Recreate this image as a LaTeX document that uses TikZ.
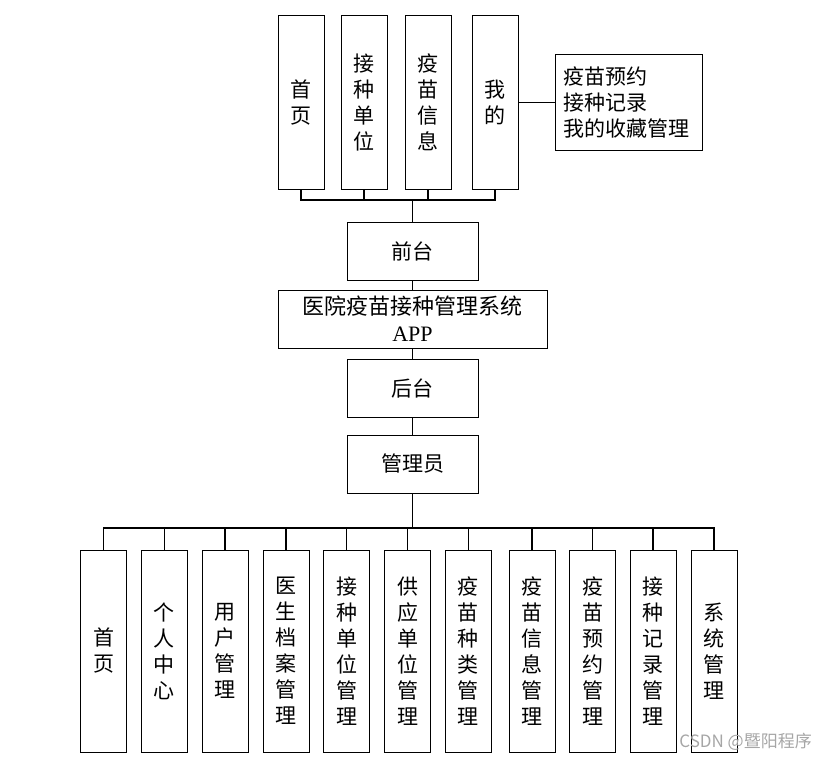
\documentclass[tikz,border=0pt]{standalone}
\usepackage{fontspec}
\setmainfont{Liberation Serif}
\newfontfamily\cjk{Noto Sans CJK SC}
\tikzset{
  box/.style={draw, line width=1pt, font=\cjk\fontsize{21}{26}\selectfont, align=center, inner sep=0pt},
  topcol/.style={box, minimum width=46pt, minimum height=173pt},
  botcol/.style={box, minimum width=46pt, minimum height=202pt},
  midbox/.style={box, minimum width=131pt, minimum height=58pt},
  link/.style={line width=1.2pt}
}
\begin{document}
\begin{tikzpicture}[x=1pt,y=-1pt]
  \useasboundingbox (0,0) rectangle (827,760);
  % front end
  \node[topcol] (t1) at (301,102.5) {首\\页};
  \node[topcol] (t2) at (364,102.5) {接\\种\\单\\位};
  \node[topcol] (t3) at (428,102.5) {疫\\苗\\信\\息};
  \node[topcol] (t4) at (495,102.5) {我\\的};
  \node[box, align=left, minimum width=147pt, minimum height=96pt, text width=131pt] (mine) at (628.5,102.5) {疫苗预约\\接种记录\\我的收藏管理};
  \draw[link] (t4.east) -- (mine.west);
  % middle
  \node[midbox] (qt) at (412.5,251) {前台};
  \node[box, minimum width=269pt, minimum height=58pt, font=\fontsize{22}{27}\selectfont] (sys) at (412.5,319) {{\cjk 医院疫苗接种管理系统}\\APP};
  \node[midbox] (ht) at (412.5,388) {后台};
  \node[midbox] (gly) at (412.5,464) {管理员};
  \draw (qt.south) -- (sys.north);
  \draw (sys.south) -- (ht.north);
  \draw (ht.south) -- (gly.north);
  \coordinate (topbus) at (412.5,200);
  \draw[link] (qt.north) -- (topbus);
  \foreach \n in {t1,t2,t3,t4} \draw[link] (\n.south) |- (topbus);
  % back end
  \coordinate (botbus) at (412.5,528);
  \draw[link] (gly.south) -- (botbus);
  \foreach \x/\t [count=\i] in {103.7/{首\\页}, 164.3/{个\\人\\中\\心}, 225/{用\\户\\管\\理},
      286/{医\\生\\档\\案\\管\\理}, 346.7/{接\\种\\单\\位\\管\\理}, 407.7/{供\\应\\单\\位\\管\\理},
      468.3/{疫\\苗\\种\\类\\管\\理}, 532/{疫\\苗\\信\\息\\管\\理}, 592.5/{疫\\苗\\预\\约\\管\\理},
      653/{接\\种\\记\\录\\管\\理}, 714/{系\\统\\管\\理}}
  {
    \node[botcol] (b\i) at (\x,651) {\t};
    \draw[link] (b\i.north) |- (botbus);
  }
  \node[text=black!35, font=\cjk\fontsize{17}{17}\selectfont, anchor=east, inner sep=0pt] (mark) at (812,742) {CSDN @暨阳程序};
\end{tikzpicture}
\end{document}
